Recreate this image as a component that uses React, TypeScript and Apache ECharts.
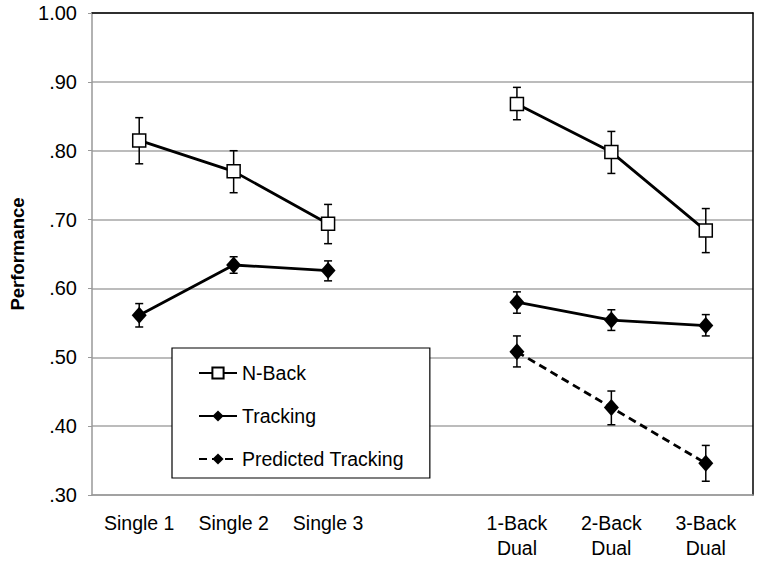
import React, { useEffect, useRef } from "react";
import * as echarts from "echarts";

const categories = ["Single 1", "Single 2", "Single 3", "", "1-Back\nDual", "2-Back\nDual", "3-Back\nDual"];

const nBack = [0.815, 0.770, 0.694, null, 0.868, 0.798, 0.684];
const nBackLow = [0.781, 0.739, 0.665, null, 0.845, 0.767, 0.652];
const nBackHigh = [0.848, 0.800, 0.722, null, 0.892, 0.828, 0.716];

const tracking = [0.561, 0.634, 0.626, null, 0.580, 0.554, 0.546];
const trackingLow = [0.544, 0.622, 0.611, null, 0.564, 0.539, 0.531];
const trackingHigh = [0.578, 0.646, 0.640, null, 0.595, 0.569, 0.562];

const predicted = [null, null, null, null, 0.508, 0.427, 0.346];
const predictedLow = [null, null, null, null, 0.486, 0.402, 0.320];
const predictedHigh = [null, null, null, null, 0.531, 0.451, 0.372];

const yMin = 0.3;
const yMax = 1.0;
const yInterval = 0.1;

const FONT = "'Liberation Sans', Arial, Helvetica, sans-serif";

function errData(low: (number | null)[], high: (number | null)[]) {
  const out: number[][] = [];
  low.forEach((l, i) => {
    const h = high[i];
    if (l != null && h != null) out.push([i, l, h]);
  });
  return out;
}

function errorSeries(low: (number | null)[], high: (number | null)[]) {
  return {
    type: "custom",
    z: 1,
    silent: true,
    data: errData(low, high),
    encode: { x: 0, y: [1, 2] },
    renderItem: (params: any, api: any) => {
      const lo = api.coord([api.value(0), api.value(1)]);
      const hi = api.coord([api.value(0), api.value(2)]);
      const w = 4;
      const style = { stroke: "#000", lineWidth: 1.5 };
      return {
        type: "group",
        children: [
          { type: "line", shape: { x1: lo[0], y1: lo[1], x2: hi[0], y2: hi[1] }, style },
          { type: "line", shape: { x1: lo[0] - w, y1: lo[1], x2: lo[0] + w, y2: lo[1] }, style },
          { type: "line", shape: { x1: hi[0] - w, y1: hi[1], x2: hi[0] + w, y2: hi[1] }, style },
        ],
      };
    },
  };
}

export default function App() {
  const ref = useRef<HTMLDivElement>(null);
  useEffect(() => {
    if (!ref.current) return;
    const chart = echarts.init(ref.current, null, { renderer: "svg" });
    chart.setOption({
      animation: false,
      backgroundColor: "#fff",
      textStyle: { fontFamily: FONT },
      grid: { left: 91, right: 9, top: 13, bottom: 68 },
      legend: {
        data: ["N-Back", "Tracking", "Predicted Tracking"],
        orient: "vertical",
        left: 172,
        top: 348,
        padding: [15, 26, 9, 26],
        itemWidth: 38,
        itemHeight: 14,
        itemGap: 23,
        backgroundColor: "#fff",
        borderColor: "#000",
        borderWidth: 1.2,
        textStyle: { fontFamily: FONT, fontSize: 19.5, color: "#000", lineHeight: 20 },
      },
      xAxis: [
        {
          type: "category",
          data: categories,
          boundaryGap: true,
          axisLine: { lineStyle: { color: "#999", width: 1.5 } },
          axisTick: { alignWithLabel: true, length: 5, lineStyle: { color: "#999" } },
          axisLabel: { color: "#000", fontSize: 19.5, fontFamily: FONT, margin: 15, lineHeight: 25, interval: 0 },
          splitLine: { show: false },
        },
        {
          type: "category",
          data: categories,
          position: "top",
          axisLine: { lineStyle: { color: "#000", width: 1.5 } },
          axisTick: { show: false },
          axisLabel: { show: false },
        },
      ],
      yAxis: [
        {
          type: "value",
          min: yMin,
          max: yMax,
          interval: yInterval,
          name: "Performance",
          nameLocation: "middle",
          nameGap: 65,
          nameTextStyle: { fontFamily: FONT, fontSize: 18.5, fontWeight: "bold", color: "#000" },
          axisLine: { show: true, lineStyle: { color: "#999", width: 1.5 } },
          axisTick: { show: true, length: 4, lineStyle: { color: "#999" } },
          axisLabel: {
            color: "#000",
            fontSize: 20,
            fontFamily: FONT,
            margin: 15,
            formatter: (v: number) => v.toFixed(2).replace(/^0/, ""),
          },
          splitLine: { lineStyle: { color: "#a6a6a6", width: 1.5 } },
        },
        {
          type: "value",
          min: yMin,
          max: yMax,
          interval: yInterval,
          position: "right",
          axisLine: { show: true, lineStyle: { color: "#000", width: 1.5 } },
          axisTick: { show: false },
          axisLabel: { show: false },
          splitLine: { show: false },
        },
      ],
      series: [
        errorSeries(nBackLow, nBackHigh),
        errorSeries(trackingLow, trackingHigh),
        errorSeries(predictedLow, predictedHigh),
        {
          name: "N-Back",
          type: "line",
          data: nBack,
          z: 3,
          connectNulls: false,
          symbol: "rect",
          symbolSize: 13,
          lineStyle: { color: "#000", width: 2.8 },
          itemStyle: { color: "#fff", borderColor: "#000", borderWidth: 1.5 },
        },
        {
          name: "Tracking",
          type: "line",
          data: tracking,
          z: 3,
          connectNulls: false,
          symbol: "diamond",
          symbolSize: [15, 17],
          lineStyle: { color: "#000", width: 2.8 },
          itemStyle: { color: "#000", borderColor: "#000", borderWidth: 0 },
        },
        {
          name: "Predicted Tracking",
          type: "line",
          data: predicted,
          z: 3,
          connectNulls: false,
          symbol: "diamond",
          symbolSize: [15, 17],
          lineStyle: { color: "#000", width: 2.8, type: [8, 5] },
          itemStyle: { color: "#000", borderColor: "#000", borderWidth: 0 },
        },
      ],
    });
    return () => chart.dispose();
  }, []);
  return <div ref={ref} style={{ position: "fixed", left: 0, top: 0, width: 762, height: 563 }} />;
}
